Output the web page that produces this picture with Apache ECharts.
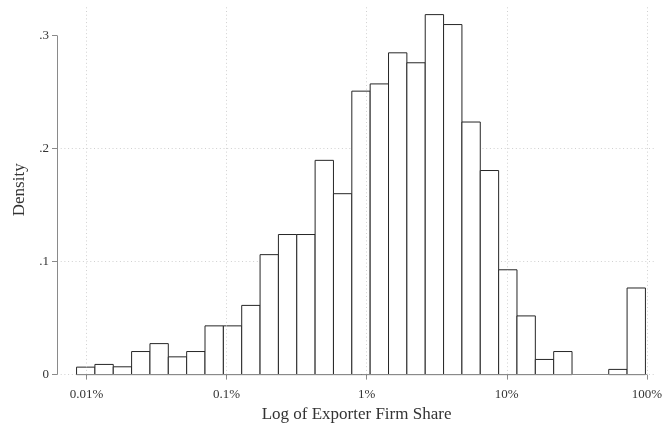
<!DOCTYPE html>
<html>
<head>
<meta charset="utf-8">
<script src="https://cdn.jsdelivr.net/npm/echarts@6/dist/echarts.min.js"></script>
<style>html,body{margin:0;padding:0;background:#fff;}#c{width:665px;height:428px;}</style>
</head>
<body>
<div id="c"></div>
<script>
// Histogram of log10(exporter firm share); bins of equal width in log10 units
const binStartLog = -4.071;
const binWidthLog = 0.1310;
const density = [0.0066, 0.0090, 0.0069, 0.0204, 0.0274, 0.0157, 0.0204, 0.0431, 0.0431, 0.0612,
                 0.1061, 0.1239, 0.1239, 0.1895, 0.1600, 0.2507, 0.2571, 0.2846, 0.2758, 0.3184,
                 0.3096, 0.2234, 0.1805, 0.0927, 0.0519, 0.0134, 0.0204, 0, 0, 0.0046, 0.0766];
const xTickValues = [-4, -3, -2, -1, 0];
const xTickLabels = ['0.01%', '0.1%', '1%', '10%', '100%'];
const yTickValues = [0, 0.1, 0.2, 0.3];
const yTickLabels = ['0', '.1', '.2', '.3'];

const X_MIN = -4.2106, X_MAX = 0.066, Y_MAX = 0.3269;
const FONT = '"Liberation Serif", "DejaVu Serif", serif';
const GRID_COLOR = '#d0d0d0';
const AXIS_COLOR = '#8a8a8a';
const TEXT_COLOR = '#333333';

const barData = density.map((d, i) => [binStartLog + i * binWidthLog, binStartLog + (i + 1) * binWidthLog, d]);

const gridStyle = {color: GRID_COLOR, width: 1, type: [1, 2.7]};
const vGridLines = xTickValues.map(v => ({xAxis: v}));
const axisLines = [
  [{coord: [X_MIN, 0]}, {coord: [X_MIN, yTickValues[yTickValues.length - 1]]}],
  [{coord: [binStartLog, 0]}, {coord: [xTickValues[xTickValues.length - 1], 0]}]
];
const fmt = (vals, labels) => v => { const i = vals.findIndex(t => Math.abs(t - v) < 1e-6); return i >= 0 ? labels[i] : ''; };

const chart = echarts.init(document.getElementById('c'), null, {renderer: 'canvas'});
chart.setOption({
  animation: false,
  backgroundColor: '#fff',
  grid: {left: 57, right: 5, top: 5, bottom: 49.4, containLabel: false},
  xAxis: {
    type: 'value', min: X_MIN, max: X_MAX, position: 'bottom',
    name: 'Log of Exporter Firm Share', nameLocation: 'middle', nameGap: 31,
    nameTextStyle: {fontFamily: FONT, fontSize: 17, color: TEXT_COLOR},
    axisLine: {show: false, onZero: false},
    axisTick: {show: true, length: 5, customValues: xTickValues, lineStyle: {color: AXIS_COLOR}},
    axisLabel: {show: true, customValues: xTickValues, margin: 13.5, fontFamily: FONT, fontSize: 13, color: TEXT_COLOR,
      formatter: fmt(xTickValues, xTickLabels)},
    splitLine: {show: false}
  },
  yAxis: {
    type: 'value', min: 0, max: Y_MAX, interval: 0.1, position: 'left',
    name: 'Density', nameLocation: 'middle', nameGap: 29, nameRotate: 90,
    nameTextStyle: {fontFamily: FONT, fontSize: 17, color: TEXT_COLOR},
    axisLine: {show: false, onZero: false},
    axisTick: {show: true, length: 5, customValues: yTickValues, lineStyle: {color: AXIS_COLOR}},
    axisLabel: {show: true, customValues: yTickValues, margin: 8, fontFamily: FONT, fontSize: 13, color: TEXT_COLOR,
      formatter: fmt(yTickValues, yTickLabels)},
    splitLine: {show: true, showMinLine: true, showMaxLine: false, lineStyle: gridStyle}
  },
  series: [
    {
      type: 'line', data: [], silent: true, z: 1,
      markLine: {silent: true, symbol: ['none', 'none'], label: {show: false}, emphasis: {disabled: true}, animation: false,
        lineStyle: gridStyle, data: vGridLines}
    },
    {
      type: 'custom', z: 3, silent: true,
      data: barData,
      encode: {x: [0, 1], y: 2},
      renderItem: function (params, api) {
        const h = api.value(2);
        if (!(h > 0)) return null;
        const p0 = api.coord([api.value(0), 0]);
        const p1 = api.coord([api.value(1), h]);
        return {
          type: 'rect',
          shape: {x: p0[0], y: p1[1], width: p1[0] - p0[0], height: p0[1] - p1[1]},
          style: {fill: '#fff', stroke: '#262626', lineWidth: 1}
        };
      }
    },
    {
      type: 'line', data: [], silent: true, z: 4,
      markLine: {silent: true, symbol: ['none', 'none'], label: {show: false}, emphasis: {disabled: true}, animation: false,
        lineStyle: {color: AXIS_COLOR, width: 1, type: 'solid'}, data: axisLines}
    }
  ]
});
</script>
</body>
</html>
